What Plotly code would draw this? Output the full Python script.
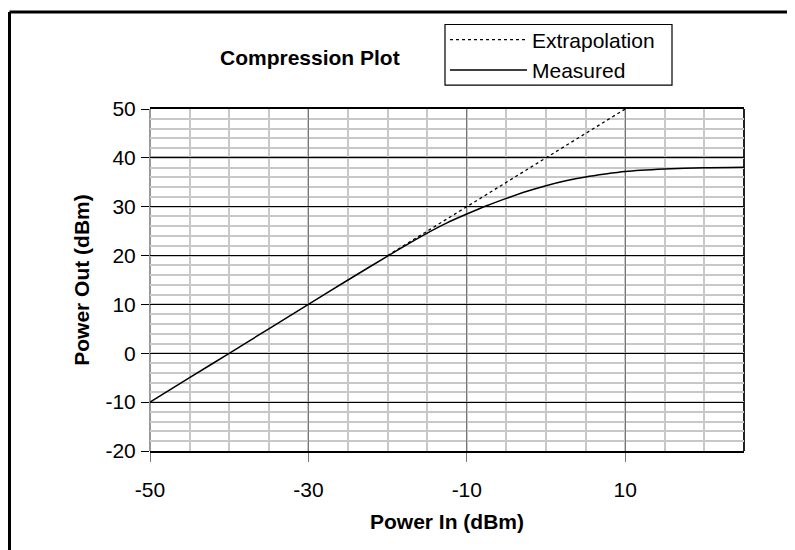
import plotly.graph_objects as go

# Data
power_in = [-50, -45, -40, -35, -30, -25, -20, -17.5, -15, -12.5, -10, -7.5, -5, -2.5,
            0, 2.5, 5, 7.5, 10, 15, 20, 25]
measured = [-10, -5, 0, 5, 10, 15, 19.9, 22.3, 24.6, 26.7, 28.5, 30.2, 31.7, 33.1,
            34.3, 35.3, 36.1, 36.7, 37.2, 37.7, 38.0, 38.1]
extrap_in = [-20, 10]
extrap_out = [20, 50]

x_ticks = [-50, -30, -10, 10]
x_tick_labels = ["-50", "-30", "-10", "10"]
y_ticks = [-20, -10, 0, 10, 20, 30, 40, 50]
y_tick_labels = ["-20", "-10", "0", "10", "20", "30", "40", "50"]

FONT = "Liberation Sans, Arial, Helvetica, sans-serif"

# figure is placed 8px from the page corner by the default body margin
W, H = 787, 542
L, R, T, B = 142, 51, 99, 99
PW, PH = W - L - R, H - T - B


def px(xp):
    return (xp - L) / PW


def py(yp):
    return (H - B - yp) / PH


fig = go.Figure()
fig.add_trace(go.Scatter(x=extrap_in, y=extrap_out, mode="lines", name="Extrapolation",
                         line=dict(color="black", width=1.3, dash="3px,3px")))
fig.add_trace(go.Scatter(x=power_in, y=measured, mode="lines", name="Measured",
                         line=dict(color="black", width=1.5, shape="spline", smoothing=0.6)))

fig.update_layout(
    width=W, height=H,
    margin=dict(l=L, r=R, t=T, b=B),
    paper_bgcolor="white", plot_bgcolor="white",
    font=dict(family=FONT, size=21, color="black"),
    showlegend=True,
    legend=dict(x=px(437), y=py(9), xanchor="left", yanchor="top",
                borderwidth=0, bgcolor="rgba(0,0,0,0)",
                font=dict(size=21), itemwidth=77, tracegroupgap=0),
    xaxis=dict(
        range=[-50, 25], tickmode="array", tickvals=x_ticks, ticktext=x_tick_labels,
        ticks="outside", ticklen=9, tickcolor="#777", tickwidth=1,
        showgrid=True, gridcolor="#777", gridwidth=1,
        minor=dict(tickmode="linear", dtick=5, tick0=-50, showgrid=True,
                   gridcolor="#c8c8c8", gridwidth=2),
        showline=True, linecolor="black", linewidth=1.5, mirror=True,
        zeroline=False, ticklabelstandoff=10,
        title=dict(text="<b>Power In (dBm)</b>", font=dict(size=21), standoff=14),
    ),
    yaxis=dict(
        range=[-20, 50], tickmode="array", tickvals=y_ticks, ticktext=y_tick_labels,
        ticks="outside", ticklen=8, tickcolor="black", tickwidth=1,
        showgrid=True, gridcolor="black", gridwidth=1,
        minor=dict(tickmode="linear", dtick=2, tick0=-20, showgrid=True,
                   gridcolor="#c8c8c8", gridwidth=2),
        showline=False, zeroline=False, ticklabelstandoff=1,
        title=dict(text="<b>Power Out (dBm)</b>", font=dict(size=21), standoff=10),
    ),
    shapes=[
        # darker 40 dBm gridline
        dict(type="line", xref="paper", yref="y", x0=0, x1=1, y0=40, y1=40,
             line=dict(color="#555", width=2.5), layer="between"),
        # left plot border (gray) and right border (black)
        dict(type="line", xref="paper", yref="paper", x0=0, x1=0, y0=0, y1=1,
             line=dict(color="#777", width=1.5), layer="between"),
        dict(type="line", xref="paper", yref="paper", x0=1, x1=1, y0=0, y1=1,
             line=dict(color="#222", width=2), layer="between"),
        # legend box
        dict(type="rect", xref="paper", yref="paper", x0=px(437), x1=px(664),
             y0=py(75), y1=py(14), line=dict(color="black", width=1.2),
             fillcolor="white", layer="below"),
        # outer frame (top and left edges)
        dict(type="line", xref="paper", yref="paper", x0=px(1.5), x1=1.2,
             y0=py(1.5), y1=py(1.5), line=dict(color="black", width=3)),
        dict(type="line", xref="paper", yref="paper", x0=px(1.5), x1=px(1.5),
             y0=py(1.5), y1=-0.4, line=dict(color="black", width=3)),
    ],
    annotations=[
        dict(text="<b>Compression Plot</b>", xref="paper", yref="paper",
             x=px(302), y=py(47), xanchor="center", yanchor="middle",
             showarrow=False, font=dict(size=21)),
    ],
)

fig.write_html("out.html")
